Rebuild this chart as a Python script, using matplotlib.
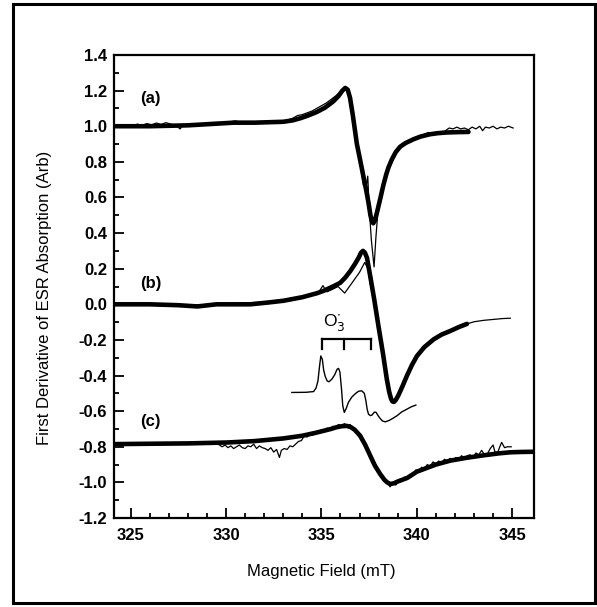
import numpy as np
import matplotlib
matplotlib.use("Agg")
import matplotlib.pyplot as plt
from matplotlib.patches import Rectangle

plt.rcParams['font.family'] = ['Liberation Sans', 'DejaVu Sans']

# (a) fit and data
a_fit_x = [324.13, 326.0, 328.0, 330.4, 331.5, 333.0, 333.5, 333.9, 334.3, 334.76, 335.2, 335.63,
           335.9, 336.1, 336.25, 336.38, 336.5, 336.65, 336.86, 337.05, 337.21, 337.35, 337.47,
           337.57, 337.65, 337.72, 337.8, 337.9, 337.99, 338.1, 338.25, 338.4, 338.52, 338.7,
           338.9, 339.13, 339.4, 339.83, 340.2, 340.7, 341.1, 341.58, 342.2, 342.71]
a_fit_y = [1.0, 1.0, 1.005, 1.02, 1.02, 1.025, 1.033, 1.045, 1.06, 1.08, 1.105, 1.14,
           1.17, 1.2, 1.215, 1.205, 1.16, 1.06, 0.90, 0.80, 0.714, 0.64, 0.57,
           0.50, 0.465, 0.455, 0.47, 0.51, 0.55, 0.60, 0.67, 0.73, 0.77, 0.815,
           0.855, 0.885, 0.905, 0.927, 0.942, 0.955, 0.961, 0.965, 0.967, 0.968]
a_dat_x = [325.1, 325.35, 325.6, 325.85, 326.1, 326.35, 326.6, 326.85, 327.1, 327.35, 327.6, 327.75,
           328.0, 328.25, 328.5, 328.75, 329.0, 329.25, 329.5, 329.75, 330.0, 330.25, 330.5, 330.75,
           331.0, 331.25, 331.5, 331.75, 332.0, 332.25, 332.5, 332.75, 333.0, 333.25, 333.5, 333.75,
           334.0, 334.25, 334.5, 334.75, 335.0, 335.25, 335.5, 335.75, 336.0, 336.2, 336.35, 336.5,
           336.86, 337.05, 337.2, 337.35, 337.43, 337.5, 337.62, 337.76, 337.86, 337.97, 338.2, 338.52,
           339.13, 339.83, 340.3, 340.6, 340.9, 341.3, 341.5, 341.7, 341.9, 342.1, 342.3, 342.5,
           342.7, 342.9, 343.1, 343.3, 343.45, 343.6, 343.8, 344.0, 344.2, 344.4, 344.6, 344.8, 345.05]
a_dat_y = [1.0, 1.012, 1.005, 1.015, 1.008, 1.018, 1.01, 1.02, 1.012, 1.005, 0.985, 1.01,
           1.003, 1.012, 1.005, 1.014, 1.008, 1.015, 1.01, 1.018, 1.015, 1.025, 1.03, 1.022,
           1.02, 1.015, 1.022, 1.018, 1.025, 1.02, 1.028, 1.015, 1.025, 1.035, 1.045, 1.06,
           1.065, 1.075, 1.085, 1.1, 1.115, 1.13, 1.15, 1.17, 1.195, 1.215, 1.205, 1.16,
           0.90, 0.78, 0.67, 0.665, 0.72, 0.55, 0.36, 0.21, 0.38, 0.53, 0.66, 0.77,
           0.89, 0.93, 0.95, 0.965, 0.955, 0.96, 0.975, 0.99, 0.985, 0.995, 0.985, 0.99,
           0.98, 0.995, 0.985, 1.0, 0.975, 0.995, 0.99, 1.0, 0.985, 0.995, 0.99, 1.0, 0.99]

# (b) fit and data
b_fit_x = [324.13, 326.0, 327.5, 328.5, 329.5, 330.5, 331.27, 332.2, 333.01, 334.0, 334.76, 335.1,
           335.4, 335.7, 335.99, 336.25, 336.51, 336.75, 336.95, 337.08, 337.18, 337.28, 337.39,
           337.56, 337.77, 337.99, 338.22, 338.43, 338.55, 338.65, 338.72, 338.8, 338.9, 339.04,
           339.25, 339.48, 339.75, 340.01, 340.4, 340.88, 341.3, 341.75, 342.2, 342.63]
b_fit_y = [0.0, 0.0, -0.005, -0.012, 0.0, 0.0, 0.0, 0.01, 0.02, 0.04, 0.062, 0.075,
           0.09, 0.105, 0.121, 0.15, 0.186, 0.225, 0.261, 0.29, 0.300, 0.29, 0.261,
           0.158, 0.027, -0.122, -0.271, -0.421, -0.49, -0.53, -0.545, -0.548, -0.537, -0.51,
           -0.46, -0.402, -0.34, -0.29, -0.24, -0.197, -0.17, -0.15, -0.128, -0.11]
b_dat_x = [324.13, 326.0, 328.0, 330.0, 332.0, 333.5, 334.5, 334.87, 335.08, 335.29, 335.6, 335.87,
           336.22, 336.57, 337.0, 337.27, 337.44, 337.6, 337.77, 337.99, 338.22, 338.43, 338.6,
           338.72, 338.85, 339.04, 339.48, 340.01, 340.5, 340.88, 341.3, 341.75, 342.2, 342.63,
           343.0, 343.5, 344.0, 344.5, 344.9]
b_dat_y = [0.0, 0.002, -0.005, 0.003, 0.012, 0.025, 0.05, 0.07, 0.105, 0.07, 0.085, 0.10,
           0.063, 0.115, 0.18, 0.235, 0.2, 0.09, 0.027, -0.122, -0.271, -0.421, -0.51,
           -0.55, -0.54, -0.51, -0.40, -0.29, -0.235, -0.2, -0.17, -0.15, -0.125, -0.11,
           -0.098, -0.09, -0.085, -0.08, -0.078]

# O3- reference spectrum (inset trace)
o3_x = [333.45, 334.2, 334.59, 334.72, 334.82, 334.9, 334.97, 335.05, 335.12, 335.2, 335.3, 335.4,
        335.55, 335.7, 335.82, 335.9, 335.97, 336.05, 336.12, 336.2, 336.3, 336.42, 336.6, 336.8,
        336.95, 337.12, 337.25, 337.33, 337.4, 337.47, 337.57, 337.65, 337.78, 337.87, 337.97,
        338.08, 338.2, 338.35, 338.55, 338.75, 338.96, 339.2, 339.48, 339.7, 339.95]
o3_y = [-0.495, -0.494, -0.49, -0.47, -0.43, -0.35, -0.29, -0.31, -0.37, -0.405, -0.43, -0.435,
        -0.42, -0.395, -0.365, -0.36, -0.38, -0.47, -0.57, -0.607, -0.585, -0.55, -0.52, -0.5,
        -0.488, -0.486, -0.5, -0.54, -0.59, -0.617, -0.625, -0.622, -0.605, -0.607, -0.625,
        -0.641, -0.655, -0.66, -0.652, -0.64, -0.626, -0.605, -0.589, -0.576, -0.566]
bracket_x = [335.03, 336.21, 337.61]
bracket_top = -0.197
bracket_bot = -0.253

# (c) fit and data
c_fit_x = [324.13, 326.0, 328.0, 330.04, 331.5, 333.01, 334.0, 334.76, 335.5, 335.8, 336.1, 336.34,
           336.55, 336.75, 337.03, 337.3, 337.56, 337.8, 338.08, 338.3, 338.45, 338.61, 338.8,
           339.0, 339.5, 340.0, 341.0, 341.75, 342.6, 343.5, 344.3, 344.9, 345.5, 346.12]
c_fit_y = [-0.785, -0.783, -0.781, -0.776, -0.768, -0.753, -0.738, -0.72, -0.70, -0.69, -0.684, -0.683,
           -0.69, -0.705, -0.738, -0.79, -0.85, -0.905, -0.953, -0.985, -1.0, -1.009, -1.005,
           -0.995, -0.975, -0.94, -0.9, -0.878, -0.862, -0.848, -0.837, -0.831, -0.829, -0.828]
c_dat_x = [329.5, 329.65, 329.8, 329.95, 330.1, 330.25, 330.4, 330.55, 330.7, 330.85, 331.0, 331.15,
           331.3, 331.45, 331.6, 331.75, 331.9, 332.05, 332.2, 332.35, 332.5, 332.65, 332.8, 332.9,
           333.05, 333.2, 333.35, 333.5, 333.65, 333.8, 333.95, 334.1, 334.25, 334.4, 334.55, 334.7,
           334.85, 335.0, 335.15, 335.3, 335.45, 335.6, 335.75, 335.9, 336.05, 336.2, 336.35, 336.5,
           336.65, 336.8, 336.95, 337.1, 337.25, 337.4, 337.55, 337.7, 337.85, 338.0, 338.15, 338.3,
           338.45, 338.6, 338.75, 338.9, 339.05, 339.2, 339.35, 339.5, 339.65, 339.8, 339.95, 340.1,
           340.25, 340.4, 340.55, 340.7, 340.85, 341.0, 341.15, 341.3, 341.45, 341.6, 341.75, 341.9,
           342.05, 342.2, 342.35, 342.5, 342.65, 342.8, 342.95, 343.1, 343.25, 343.4, 343.55, 343.7,
           343.85, 344.0, 344.1, 344.25, 344.35, 344.45, 344.6, 344.75, 344.95]
c_dat_y = [-0.775, -0.79, -0.8, -0.79, -0.805, -0.795, -0.81, -0.8, -0.79, -0.805, -0.81, -0.795,
           -0.8, -0.785, -0.81, -0.795, -0.805, -0.81, -0.82, -0.805, -0.83, -0.815, -0.86, -0.82,
           -0.81, -0.815, -0.795, -0.8, -0.785, -0.77, -0.765, -0.74, -0.745, -0.73, -0.735, -0.715,
           -0.72, -0.705, -0.71, -0.695, -0.705, -0.685, -0.69, -0.675, -0.685, -0.67, -0.68, -0.675,
           -0.695, -0.71, -0.735, -0.75, -0.785, -0.81, -0.845, -0.87, -0.9, -0.93, -0.955, -0.975,
           -1.0, -1.025, -1.0, -1.015, -0.99, -0.995, -0.97, -0.98, -0.955, -0.96, -0.93, -0.94,
           -0.915, -0.92, -0.9, -0.91, -0.885, -0.895, -0.88, -0.89, -0.87, -0.88, -0.865, -0.875,
           -0.86, -0.87, -0.85, -0.865, -0.85, -0.845, -0.86, -0.835, -0.845, -0.82, -0.845, -0.84,
           -0.81, -0.79, -0.83, -0.83, -0.8, -0.775, -0.805, -0.8, -0.8]

trace_labels = ['(a)', '(b)', '(c)']
label_x = 326.05
label_y = [1.155, 0.117, -0.659]

y_ticks = [-1.2, -1.0, -0.8, -0.6, -0.4, -0.2, 0.0, 0.2, 0.4, 0.6, 0.8, 1.0, 1.2, 1.4]
x_ticks = [325, 330, 335, 340, 345]

fig = plt.figure(figsize=(5.97, 6.07), dpi=100)
ax = fig.add_axes([0.191, 0.1466, 0.7027, 0.7628])

thick = dict(color='black', lw=3.3, solid_capstyle='round', solid_joinstyle='round', zorder=3)
thin = dict(color='black', lw=0.9, zorder=4)
for fx, fy, dx, dy in [(a_fit_x, a_fit_y, a_dat_x, a_dat_y),
                       (b_fit_x, b_fit_y, b_dat_x, b_dat_y),
                       (c_fit_x, c_fit_y, c_dat_x, c_dat_y)]:
    ax.plot(fx, fy, **thick)
    ax.plot(dx, dy, **thin)

ax.plot(o3_x, o3_y, color='black', lw=1.0)
ax.plot([bracket_x[0], bracket_x[-1]], [bracket_top, bracket_top], color='black', lw=1.6)
for bx in bracket_x:
    ax.plot([bx, bx], [bracket_top, bracket_bot], color='black', lw=1.6)
ax.text(335.67, -0.1, r'O$_3^{\cdot}$', fontsize=12.5, ha='center', va='center')

for t, ly in zip(trace_labels, label_y):
    ax.text(label_x, ly, t, fontsize=12, fontweight='bold', ha='center', va='center')

ax.set_xlim(324.13, 346.12)
ax.set_ylim(-1.2, 1.4)
ax.set_xticks(x_ticks)
ax.set_xticks(np.arange(325, 346, 1), minor=True)
ax.set_yticks(y_ticks)
ax.set_yticks(np.arange(-12, 15) / 10.0, minor=True)
ax.set_yticklabels(['%.1f' % (v + 0.0) for v in y_ticks])
ax.tick_params(which='both', direction='in', top=False, right=False, width=1.3)
ax.tick_params(which='major', length=7, labelsize=12)
ax.tick_params(axis='x', which='major', pad=7)
ax.tick_params(axis='y', which='major', pad=5)
ax.tick_params(which='minor', length=3.5)
for lab in ax.get_xticklabels() + ax.get_yticklabels():
    lab.set_fontweight('bold')
for s in ax.spines.values():
    s.set_linewidth(1.6)

ax.set_xlabel('Magnetic Field (mT)', fontsize=12)
ax.set_ylabel('First Derivative of ESR Absorption (Arb)', fontsize=12)
ax.xaxis.set_label_coords(0.493, -0.099)
ax.yaxis.set_label_coords(-0.148, 0.476)

fig.patches.append(Rectangle((13 / 597, 4 / 607), 582 / 597, 599 / 607, transform=fig.transFigure,
                             fill=False, lw=2.2, edgecolor='black'))

fig.savefig('out.png', dpi=100)
